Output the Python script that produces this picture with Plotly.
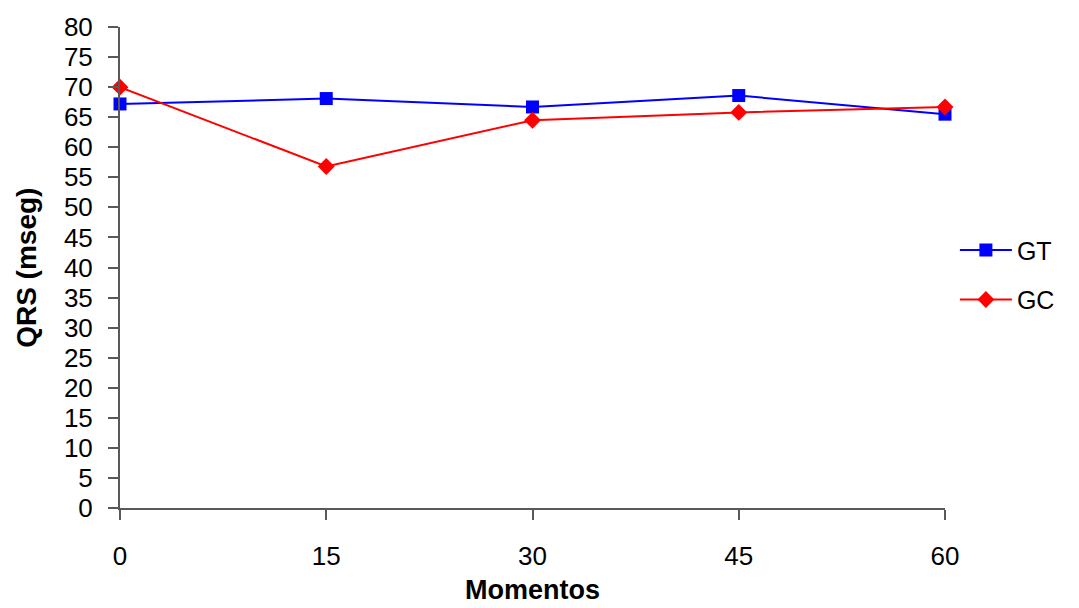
import plotly.graph_objects as go

momentos = [0, 15, 30, 45, 60]
gt = [67.2, 68.1, 66.7, 68.6, 65.5]
gc = [70.0, 56.8, 64.5, 65.8, 66.7]
y_ticks = list(range(0, 81, 5))

fig = go.Figure()
fig.add_trace(go.Scatter(x=momentos, y=gt, name="GT", mode="lines+markers",
                         legendgroup="gt",
                         line=dict(color="#0000ff", width=2),
                         marker=dict(symbol="square", size=13, color="#0000ff"),
                         cliponaxis=False))
fig.add_trace(go.Scatter(x=momentos, y=gc, name="GC", mode="lines+markers",
                         legendgroup="gc",
                         line=dict(color="#ff0000", width=2),
                         marker=dict(symbol="diamond", size=13, color="#ff0000"),
                         cliponaxis=False))

axis_common = dict(showgrid=False, zeroline=False, showline=True, linecolor="#595959",
                   linewidth=2, ticks="outside", tickcolor="#595959", tickwidth=2,
                   ticklen=10, tickfont=dict(family="Liberation Sans, Arial", size=26, color="#000000"))

fig.update_layout(
    width=1079, height=608,
    margin=dict(l=120, r=134, t=23, b=100),
    paper_bgcolor="white", plot_bgcolor="white",
    font=dict(family="Liberation Sans, Arial", color="#000000"),
    xaxis=dict(range=[0, 60], tickvals=momentos, ticklabelstandoff=14, **axis_common),
    yaxis=dict(range=[0, 80], tickvals=y_ticks, ticklabelstandoff=10, **axis_common),
    legend=dict(x=1.012, y=0.485, xanchor="left", yanchor="middle",
                font=dict(size=25, color="#000000"), traceorder="grouped",
                tracegroupgap=14, itemwidth=52,
                bgcolor="rgba(0,0,0,0)"),
    showlegend=True,
    annotations=[
        dict(text="<b>Momentos</b>", xref="paper", yref="paper", x=0.5, y=-0.17,
             yanchor="middle", showarrow=False, font=dict(size=27)),
        dict(text="<b>QRS (mseg)</b>", xref="paper", yref="paper", x=-0.1135, y=0.5,
             xanchor="center", yanchor="middle", textangle=-90, showarrow=False,
             font=dict(size=28)),
    ],
)

fig.write_html("out.html")
